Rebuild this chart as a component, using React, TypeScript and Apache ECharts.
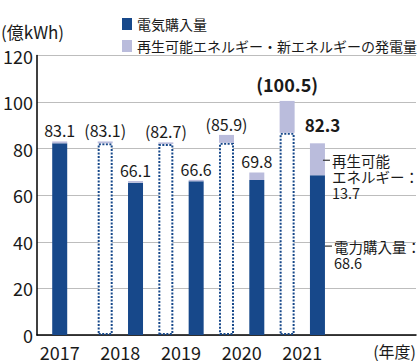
import React, { useEffect, useRef } from 'react';
import * as echarts from 'echarts';

// ---- data ----
const years = ['2017', '2018', '2019', '2020', '2021'];
const purchased = [82.3, 65.4, 66.0, 66.6, 68.6];
const renewable = [0.8, 0.7, 0.6, 3.2, 13.7];
const totals = ['83.1', '66.1', '66.6', '69.8', '82.3'];

// comparison bars (dotted outline) for 2018–2021
const comparePurchased = [82.3, 82.0, 82.5, 86.8];
const compareRenewable = [0.8, 0.7, 3.4, 13.7];
const compareTotals = ['(83.1)', '(82.7)', '(85.9)', '(100.5)'];

const legendNames = ['電気購入量', '再生可能エネルギー・新エネルギーの発電量'];
const renewNote = ['再生可能', 'エネルギー：'];
const purchaseNote = '電力購入量：';

// ---- layout of slots on the category axis ----
const SLOTS = 25;
const labelSlot = (i: number) => 1 + 4 * i;
const solidSlot = (i: number) => (i === 0 ? 1 : 2 + 4 * i);
const compareSlot = (j: number) => 4 * (j + 1);

const DARK = '#17488a';
const LAV = '#babcdc';
const TEXT = '#1a1a1a';
const FONT = "'Noto Sans CJK JP', 'Noto Sans', sans-serif";

const noteRich = {
  d: { width: 7, height: 1.2, lineHeight: 16, backgroundColor: '#333', fontSize: 8, verticalAlign: 'middle' },
  g: { width: 2, lineHeight: 16, fontSize: 8 },
  t: { fontSize: 14.5, color: TEXT, lineHeight: 16, fontFamily: FONT },
  n: { fontSize: 14.5, color: TEXT, lineHeight: 16, padding: [0, 0, 0, 9], fontFamily: FONT },
};

export default function App() {
  const ref = useRef<HTMLDivElement>(null);
  useEffect(() => {
    document.body.style.margin = '0';
    if (!ref.current) return;
    const chart = echarts.init(ref.current, undefined, { renderer: 'svg' });

    const cats: string[] = Array.from({ length: SLOTS }, () => '');
    years.forEach((y, i) => (cats[labelSlot(i)] = y));

    const darkData: any[] = Array.from({ length: SLOTS }, () => null);
    const dottedData: any[] = Array.from({ length: SLOTS }, () => null);
    const lavData: any[] = Array.from({ length: SLOTS }, () => null);

    const last = years.length - 1;
    years.forEach((_, i) => {
      const s = solidSlot(i);
      darkData[s] = purchased[i];
      lavData[s] = {
        value: renewable[i],
        label: { show: true, position: 'top', distance: 3, formatter: totals[i] },
      };
    });
    // emphasised 2021 total
    lavData[solidSlot(last)].label = {
      show: true,
      position: 'top',
      distance: 5,
      offset: [5, -5],
      formatter: totals[last],
      fontSize: 17,
      fontWeight: 'bold',
    };
    darkData[solidSlot(last)] = {
      value: purchased[last],
      label: {
        show: true,
        position: 'right',
        distance: 0,
        offset: [0, -1],
        align: 'left',
        formatter: `{d| }{g| }{t|${purchaseNote}}\n{n|${purchased[last].toFixed(1)}}`,
        rich: noteRich,
      },
    };

    comparePurchased.forEach((v, j) => {
      const s = compareSlot(j);
      dottedData[s] = v;
      lavData[s] = {
        value: compareRenewable[j],
        label: { show: true, position: 'top', distance: 3, formatter: compareTotals[j] },
      };
    });
    const lc = compareSlot(comparePurchased.length - 1);
    lavData[lc].label = {
      show: true,
      position: 'top',
      distance: 8,
      formatter: compareTotals[comparePurchased.length - 1],
      fontSize: 18,
      fontWeight: 'bold',
    };

    const option: any = {
      animation: false,
      textStyle: { fontFamily: FONT },
      grid: { left: 35.5, right: 4, top: 55.5, bottom: 22.7, containLabel: false },
      legend: {
        orient: 'vertical',
        left: 117,
        top: 12,
        itemWidth: 10,
        itemHeight: 12,
        itemGap: 8,
        icon: 'rect',
        data: legendNames,
        textStyle: { fontSize: 14, color: TEXT, fontFamily: FONT },
      },
      xAxis: {
        type: 'category',
        data: cats,
        boundaryGap: true,
        axisLine: { lineStyle: { color: '#000', width: 1.5 } },
        axisTick: { show: false },
        axisLabel: { interval: 0, fontSize: 18, color: TEXT, margin: 8, fontFamily: FONT },
      },
      yAxis: {
        type: 'value',
        min: 0,
        max: 120,
        interval: 20,
        axisLine: { show: true, lineStyle: { color: '#000', width: 1.5 } },
        axisTick: { show: false },
        axisLabel: { fontSize: 18, color: TEXT, margin: 4, fontFamily: FONT },
        splitLine: { lineStyle: { color: '#bdbdbd', width: 1 } },
      },
      graphic: [
        { type: 'text', left: 1, top: 23, style: { text: '(億kWh)', fontSize: 17, fill: TEXT, fontFamily: FONT } },
        { type: 'text', right: 4, top: 343, style: { text: '(年度)', fontSize: 16, fill: TEXT, fontFamily: FONT } },
      ],
      series: [
        {
          name: legendNames[0],
          type: 'bar',
          stack: 'total',
          barWidth: 15,
          data: darkData,
          itemStyle: { color: DARK },
          label: { show: false },
        },
        {
          name: 'compare',
          type: 'bar',
          stack: 'total',
          barWidth: 15,
          data: dottedData,
          itemStyle: { color: '#ffffff', borderColor: DARK, borderWidth: 2, borderType: [2, 1.5] },
          label: { show: false },
        },
        {
          name: legendNames[1],
          type: 'bar',
          stack: 'total',
          barWidth: 15,
          data: lavData,
          itemStyle: { color: LAV },
          label: { show: false, fontSize: 16, color: TEXT, fontFamily: FONT },
          markPoint: {
            symbol: 'rect',
            symbolSize: 1,
            itemStyle: { color: 'rgba(0,0,0,0)' },
            data: [
              {
                coord: [solidSlot(last), purchased[last] + renewable[last] / 2],
                label: {
                  show: true,
                  position: 'right',
                  distance: 5,
                  offset: [0, 17],
                  align: 'left',
                  formatter: `{d| }{g| }{t|${renewNote[0]}}\n{n|${renewNote[1]}}\n{n|${renewable[last].toFixed(1)}}`,
                  rich: noteRich,
                },
              },
            ],
          },
        },
      ],
    };
    chart.setOption(option);
    return () => chart.dispose();
  }, []);
  return <div ref={ref} style={{ width: 420, height: 361 }} />;
}
